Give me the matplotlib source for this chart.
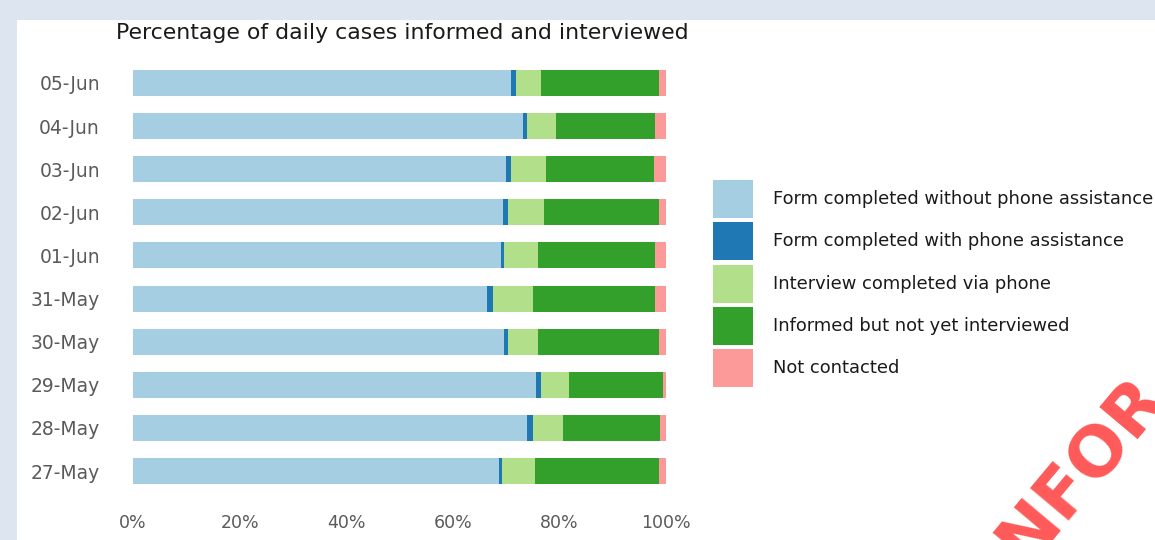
import numpy as np
import matplotlib
matplotlib.use("Agg")
import matplotlib.pyplot as plt
from matplotlib.patches import Rectangle

# daily shares (%), bottom row first
dates = ['27-May', '28-May', '29-May', '30-May', '31-May',
         '01-Jun', '02-Jun', '03-Jun', '04-Jun', '05-Jun']
without_phone = [68.7, 74.0, 75.7, 69.6, 66.5, 69.0, 69.4, 70.0, 73.2, 70.9]
with_phone = [0.6, 1.0, 0.8, 0.8, 1.1, 0.6, 1.0, 1.0, 0.8, 0.9]
via_phone = [6.1, 5.6, 5.3, 5.6, 7.4, 6.4, 6.8, 6.5, 5.4, 4.8]
not_interviewed = [23.2, 18.2, 17.7, 22.6, 23.0, 22.0, 21.4, 20.2, 18.6, 22.0]
not_contacted = [1.4, 1.2, 0.5, 1.4, 2.0, 2.0, 1.4, 2.3, 2.0, 1.4]

labels = ['Form completed without phone assistance',
          'Form completed with phone assistance',
          'Interview completed via phone',
          'Informed but not yet interviewed',
          'Not contacted']
colors = ['#a6cee3', '#1f78b4', '#b2df8a', '#33a02c', '#fb9a99']
series = [without_phone, with_phone, via_phone, not_interviewed, not_contacted]

W, H = 1155, 540
fig = plt.figure(figsize=(W/100, H/100), dpi=100, facecolor='#dde6f0')
# white panel
fig.add_artist(Rectangle((17/W, 0), 1 - 17/W, (H - 20)/H,
                         transform=fig.transFigure, facecolor='white',
                         edgecolor='none', zorder=-5))

ax = fig.add_axes([125/W, 43/H, 550/W, 440/H])
ax.set_facecolor('none')

y = np.arange(len(dates))
left = np.zeros(len(dates))
for vals, c, lab in zip(series, colors, labels):
    ax.barh(y, vals, left=left, height=0.6, color=c, label=lab)
    left += np.array(vals)

ax.set_xlim((125 - 133)/5.33, (675 - 133)/5.33)
ax.set_ylim(-0.6, 9.6)
ax.set_yticks(y)
ax.set_yticklabels(dates)
ax.set_xticks([0, 20, 40, 60, 80, 100])
ax.set_xticklabels(['0%', '20%', '40%', '60%', '80%', '100%'])
ax.tick_params(length=0, colors='#5a5a5a')
ax.tick_params(axis='x', pad=12, labelsize=12.5)
ax.tick_params(axis='y', pad=18, labelsize=13.5)
for s in ax.spines.values():
    s.set_visible(False)

fig.text(116/W, 1 - 33/H, 'Percentage of daily cases informed and interviewed',
         fontsize=15.8, color='#1a1a1a', ha='left', va='center')

# legend keys, one row per category
for i, (c, lab) in enumerate(zip(colors, labels)):
    yc = 199 + i * 42.3
    fig.add_artist(Rectangle((713/W, 1 - (yc + 19)/H), 40/W, 38/H,
                             transform=fig.transFigure, facecolor=c,
                             edgecolor='none'))
    fig.text(773/W, 1 - yc/H, lab, fontsize=12.9, color='#1a1a1a',
             ha='left', va='center')

# watermark
fig.text(1010/W, -44/H, 'INFOR', fontsize=50, fontweight='bold',
         color='#ff3030', alpha=0.8, rotation=50, rotation_mode='anchor',
         ha='left', va='baseline')

fig.savefig('out.png', dpi=100, facecolor=fig.get_facecolor())
